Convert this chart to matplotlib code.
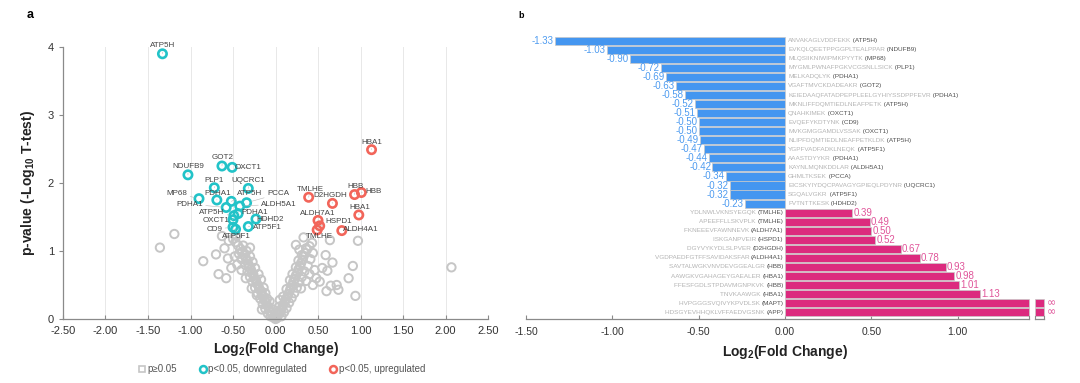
import numpy as np
import matplotlib
matplotlib.use("Agg")
import matplotlib.pyplot as plt
from matplotlib.lines import Line2D
import matplotlib.transforms as mtransforms

plt.rcParams['font.family'] = ['Liberation Sans', 'DejaVu Sans']
plt.rcParams['mathtext.default'] = 'regular'

# ---------------- data ----------------
down_genes = ["ATP5H", "NDUFB9", "MP68", "PLP1", "PDHA1", "GOT2", "PDHA1", "ATP5H", "OXCT1",
              "CD9", "OXCT1", "ATP5H", "ATP5F1", "PDHA1", "ALDH5A1", "PCCA", "UQCRC1", "ATP5F1", "HDHD2"]
down_peptides = ["ANVAKAGLVDDFEKK", "EVKQLQEETPPGGPLTEALPPAR", "MLQSIIKNIWIPMKPYYTK",
                 "MYGMLPWNAFPGKVCGSNLLSICK", "MELKADQLYK", "VGAFTMVCKDADEAKR",
                 "KEIEDAAQFATADPEPPLEELGYHIYSSDPPFEVR", "MKNLIFFDQMTIEDLNEAFPETK", "QNAHKIMEK",
                 "EVQEFYKDTYNK", "MVKGMGGAMDLVSSAK", "NLIPFDQMTIEDLNEAFPETKLDK", "YGPFVADFADKLNEQK",
                 "AAASTDYYKR", "KAYNLMQNKDDLAR", "GHMLTKSEK", "EICSKYIYDQCPAVAGYGPIEQLPDYNR",
                 "SGQALVGKR", "FVTNTTKESK"]
down_fc = [-1.33, -1.03, -0.90, -0.72, -0.69, -0.63, -0.58, -0.52, -0.51,
           -0.50, -0.50, -0.49, -0.47, -0.44, -0.42, -0.34, -0.32, -0.32, -0.23]
down_logp = [3.90, 2.12, 1.77, 1.93, 1.75, 2.25, 1.64, 1.73, 2.23,
             1.35, 1.46, 1.52, 1.32, 1.55, 1.66, 1.71, 1.92, 1.36, 1.47]

up_genes = ["TMLHE", "TMLHE", "ALDH7A1", "HSPD1", "D2HGDH", "ALDH4A1", "HBB", "HBA1", "HBB", "HBA1", "MAPT", "APP"]
up_peptides = ["YDLNWLVKNSYEGQK", "APEEFFLLSKVPLK", "FKNEEEVFAWNNEVK", "ISKGANPVEIR", "DGYVYKYDLSLPVER",
               "VGDPAEDFGTFFSAVIDAKSFAR", "SAVTALWGKVNVDEVGGEALGR", "AAWGKVGAHAGEYGAEALER",
               "FFESFGDLSTPDAVMGNPKVK", "TNVKAAWGK", "HVPGGGSVQIVYKPVDLSK", "HDSGYEVHHQKLVFFAEDVGSNK"]
up_fc = [0.39, 0.49, 0.50, 0.52, 0.67, 0.78, 0.93, 0.98, 1.01, 1.13, np.inf, np.inf]
up_logp = [1.79, 1.31, 1.45, 1.37, 1.70, 1.30, 1.83, 1.53, 1.86, 2.49, np.nan, np.nan]

gray_points = [
    (-0.02, 0.02), (-0.04, 0.06), (-0.05, 0.10), (-0.07, 0.12), (-0.08, 0.17), (-0.10, 0.20), (-0.11, 0.25),
    (-0.13, 0.28), (-0.14, 0.33), (-0.16, 0.36), (-0.17, 0.41), (-0.19, 0.44), (-0.20, 0.49), (-0.22, 0.52),
    (-0.23, 0.57), (-0.25, 0.60), (-0.26, 0.65), (-0.28, 0.68), (-0.29, 0.73), (-0.31, 0.77), (-0.32, 0.81),
    (-0.34, 0.86), (-0.35, 0.90), (-0.37, 0.94), (-0.39, 0.99), (-0.41, 1.03), (-0.44, 1.08), (-0.47, 1.13),
    (-0.50, 1.18), (-0.46, 1.22), (-0.06, 0.04), (-0.09, 0.08), (-0.12, 0.15), (-0.10, 0.30), (-0.15, 0.22),
    (-0.18, 0.30), (-0.14, 0.46), (-0.21, 0.38), (-0.24, 0.46), (-0.17, 0.58), (-0.27, 0.55), (-0.20, 0.66),
    (-0.30, 0.62), (-0.24, 0.75), (-0.33, 0.70), (-0.27, 0.84), (-0.36, 0.80), (-0.30, 0.92), (-0.40, 0.88),
    (-0.34, 1.00), (-0.43, 0.96), (-0.38, 1.08), (-0.30, 1.05), (-0.45, 0.80), (-0.48, 0.92), (-0.40, 0.72),
    (-0.35, 0.60), (-0.28, 0.45), (-0.22, 0.35), (-0.16, 0.14), (-0.03, 0.14), (-0.07, 0.26), (-0.12, 0.38),
    (-1.36, 1.05), (-1.19, 1.25), (-0.85, 0.85), (-0.70, 0.95), (-0.67, 0.66), (-0.60, 1.04), (-0.63, 1.22),
    (-0.56, 0.89), (-0.55, 1.15), (-0.52, 0.75), (-0.58, 0.60),
    (0.00, 0.00), (0.01, 0.01), (-0.01, 0.03),
    (0.02, 0.02), (0.03, 0.06), (0.05, 0.09), (0.06, 0.13), (0.08, 0.17), (0.09, 0.21), (0.11, 0.25),
    (0.12, 0.29), (0.14, 0.33), (0.15, 0.37), (0.17, 0.42), (0.18, 0.46), (0.20, 0.50), (0.21, 0.55),
    (0.23, 0.59), (0.24, 0.64), (0.26, 0.68), (0.27, 0.73), (0.29, 0.78), (0.30, 0.82), (0.32, 0.87),
    (0.33, 0.92), (0.35, 0.97), (0.37, 1.02), (0.40, 1.07), (0.43, 1.12), (0.33, 1.20), (0.24, 1.09),
    (0.28, 1.02), (0.36, 1.04), (0.44, 0.97), (0.07, 0.04), (0.10, 0.10), (0.13, 0.16), (0.09, 0.33),
    (0.16, 0.24), (0.19, 0.31), (0.13, 0.44), (0.22, 0.38), (0.25, 0.46), (0.17, 0.57), (0.28, 0.54),
    (0.20, 0.66), (0.31, 0.62), (0.24, 0.76), (0.34, 0.70), (0.27, 0.86), (0.38, 0.78), (0.31, 0.94),
    (0.41, 0.88), (0.40, 0.66), (0.36, 0.56), (0.30, 0.45), (0.46, 0.72), (0.48, 0.60), (0.44, 0.50),
    (0.05, 0.28), (0.04, 0.18),
    (0.97, 1.15), (0.64, 1.16), (0.91, 0.78), (0.86, 0.60), (0.94, 0.34), (0.67, 0.83), (0.59, 0.94),
    (0.55, 0.75), (0.61, 0.71), (0.74, 0.43), (0.72, 0.50), (0.65, 0.49), (0.60, 0.41), (0.52, 0.55),
    (2.07, 0.76),
]
gray_fc = [p[0] for p in gray_points]
gray_logp = [p[1] for p in gray_points]

# label placement (layout, data coordinates)
down_label_pos = [(-1.33, 4.02), (-1.03, 2.24), (-1.16, 1.85), (-0.72, 2.04), (-0.68, 1.85), (-0.62, 2.38),
                  (-1.01, 1.69), (-0.30, 1.85), (-0.32, 2.23), (-0.72, 1.32), (-0.70, 1.45), (-0.75, 1.56),
                  (-0.46, 1.21), (-0.24, 1.56), (0.04, 1.69), (0.03, 1.84), (-0.32, 2.04), (-0.10, 1.35),
                  (-0.06, 1.47)]
up_label_pos = [(0.41, 1.91), (0.51, 1.21), (0.50, 1.55), (0.74, 1.43), (0.65, 1.81), (1.00, 1.31),
                (0.94, 1.95), (0.99, 1.64), (1.15, 1.87), (1.13, 2.60)]

# ---------------- style ----------------
CYAN = '#22c3c8'
RED = '#f2655a'
GRAY = '#c6c6c6'
BLUE = '#4496f0'
PINK = '#dc2a7e'
SPINE = '#8a8a8a'
TXT = '#444444'

fig = plt.figure(figsize=(10.8, 3.83), dpi=100)
ax1 = fig.add_axes([63 / 1080, 1 - 319 / 383, 425 / 1080, 272 / 383])
ax2 = fig.add_axes([526 / 1080, 1 - 319 / 383, 518 / 1080, (319 - 36.2) / 383])

# ---------------- panel a: volcano ----------------
ax1.set_xlim(-2.5, 2.5)
ax1.set_ylim(0, 4)
xt = np.arange(-2.5, 2.51, 0.5)
ax1.set_xticks(xt)
ax1.set_xticklabels([f"{v:.2f}" for v in xt])
ax1.set_yticks([0, 1, 2, 3, 4])
for v in xt[1:]:
    ax1.axvline(v, color='#e8e8e8', lw=0.7, zorder=0)
for s in ['top', 'right']:
    ax1.spines[s].set_visible(False)
for s in ['left', 'bottom']:
    ax1.spines[s].set_color(SPINE)
    ax1.spines[s].set_linewidth(0.9)
ax1.tick_params(axis='x', direction='in', length=3, color=SPINE, labelsize=8, labelcolor='#333333', pad=5)
ax1.tick_params(axis='y', direction='out', length=3, color=SPINE, labelsize=8, labelcolor='#333333')

MS = 36
ax1.scatter(gray_fc, gray_logp, s=MS, facecolors='none', edgecolors=GRAY, linewidths=1.4, zorder=2, clip_on=False)
ax1.scatter(down_fc, down_logp, s=MS, facecolors='none', edgecolors=CYAN, linewidths=1.9, zorder=4, clip_on=False)
upf = [(x, y) for x, y in zip(up_fc, up_logp) if np.isfinite(x)]
ax1.scatter([p[0] for p in upf], [p[1] for p in upf], s=MS, facecolors='none', edgecolors=RED,
            linewidths=1.9, zorder=4, clip_on=False)

def put_label(ax, name, x, y, pos):
    ax.annotate(name, xy=(x, y), xytext=pos, textcoords='data', ha='center', va='center',
                fontsize=5.8, color=TXT, zorder=5, annotation_clip=False,
                arrowprops=dict(arrowstyle='-', color='#b8b8b8', lw=0.4, shrinkA=0, shrinkB=3.5))

for g, x, y, pos in zip(down_genes, down_fc, down_logp, down_label_pos):
    put_label(ax1, g, x, y, pos)
for g, x, y, pos in zip(up_genes, up_fc, up_logp, up_label_pos):
    put_label(ax1, g, x, y, pos)

ax1.set_xlabel('Log$_2$(Fold Change)', fontsize=10, fontweight='bold', color='#222222', labelpad=3)
ax1.set_ylabel('p-value (-Log$_{10}$ T-test)', fontsize=10, fontweight='bold', color='#222222', labelpad=8)

handles = [Line2D([], [], marker='s', ls='', mfc='none', mec=GRAY, mew=1.2, ms=4.5),
           Line2D([], [], marker='o', ls='', mfc='none', mec=CYAN, mew=1.8, ms=5),
           Line2D([], [], marker='o', ls='', mfc='none', mec=RED, mew=1.8, ms=5)]
leg = fig.legend(handles, ['p\u22650.05', 'p<0.05, downregulated', 'p<0.05, upregulated'],
                 loc='center', bbox_to_anchor=(281 / 1080, 1 - 369 / 383), ncol=3, frameon=False,
                 fontsize=7, handletextpad=0.05, columnspacing=2.2, handlelength=1.0)
for t in leg.get_texts():
    t.set_color('#555555')

fig.text(30 / 1080, 1 - 15 / 383, 'a', fontsize=9, fontweight='bold', va='center', ha='center')
fig.text(521 / 1080, 1 - 16 / 383, 'b', fontsize=6.5, fontweight='bold', va='center', ha='center')

# ---------------- panel b: bars ----------------
BREAK_L, BREAK_R, XMAX = 1.413, 1.448, 1.5
n_down = len(down_fc)
nbar = n_down + len(up_fc)
ax2.set_xlim(-1.5, XMAX)
ax2.set_ylim(nbar - 0.25, -0.5)
H = 0.9
for i, (v, pep, g) in enumerate(zip(down_fc, down_peptides, down_genes)):
    ax2.barh(i, v, height=H, color=BLUE, edgecolor='#c8c8c8', linewidth=0.5, zorder=2)
    ax2.annotate(f"{v:.2f}", xy=(v, i), xytext=(-1, 0), textcoords='offset points', ha='right', va='center',
                 fontsize=7, color='#4f9cf0')
    t1 = ax2.text(0.018, i, pep, ha='left', va='center', fontsize=4.6, color='#b4b4b4', zorder=3)
    ax2.annotate(' (' + g + ')', xy=(1, 0.5), xycoords=t1, ha='left', va='center', fontsize=4.6, color='#505050')

for j, (v, pep, g) in enumerate(zip(up_fc, up_peptides, up_genes)):
    i = n_down + j
    if np.isfinite(v):
        ax2.barh(i, v, height=H, color=PINK, edgecolor='#c8c8c8', linewidth=0.5, zorder=2)
        ax2.annotate(f"{v:.2f}", xy=(v, i), xytext=(1, 0), textcoords='offset points', ha='left', va='center',
                     fontsize=7, color='#e0559a')
    else:
        ax2.barh(i, BREAK_L, height=H, color=PINK, edgecolor='#c8c8c8', linewidth=0.5, zorder=2)
        ax2.barh(i, XMAX - BREAK_R, left=BREAK_R, height=H, color=PINK, edgecolor='#c8c8c8', linewidth=0.5,
                 zorder=2, clip_on=False)
        ax2.annotate('\u221e', xy=(XMAX, i), xytext=(2, 0), textcoords='offset points', ha='left',
                     va='center', fontsize=8, color='#e0559a', annotation_clip=False, family='DejaVu Sans')
    tg = ax2.text(-0.008, i, '(' + g + ')', ha='right', va='center', fontsize=4.6, color='#505050', zorder=3)
    ax2.annotate(pep + ' ', xy=(0, 0.5), xycoords=tg, ha='right', va='center', fontsize=4.6, color='#b4b4b4')

for s in ['top', 'right', 'left']:
    ax2.spines[s].set_visible(False)
ax2.spines['bottom'].set_color(SPINE)
ax2.spines['bottom'].set_linewidth(0.9)
ax2.spines['bottom'].set_bounds(-1.5, BREAK_L)
trans = mtransforms.blended_transform_factory(ax2.transData, ax2.transAxes)
ax2.plot([BREAK_R, XMAX], [0, 0], transform=trans, color=SPINE, lw=0.9, clip_on=False)
for bx in [BREAK_L, BREAK_R, XMAX]:
    ax2.plot([bx, bx], [0, 0.012], transform=trans, color=SPINE, lw=0.8, clip_on=False)
bt = [-1.5, -1.0, -0.5, 0.0, 0.5, 1.0]
ax2.set_xticks(bt)
ax2.set_xticklabels([f"{v:.2f}" for v in bt])
ax2.set_yticks([])
ax2.tick_params(axis='x', direction='in', length=3, color=SPINE, labelsize=7.5, labelcolor='#333333', pad=6)
ax2.set_xlabel('Log$_2$(Fold Change)', fontsize=10, fontweight='bold', color='#222222', labelpad=4)

fig.savefig('out.png', dpi=100)
